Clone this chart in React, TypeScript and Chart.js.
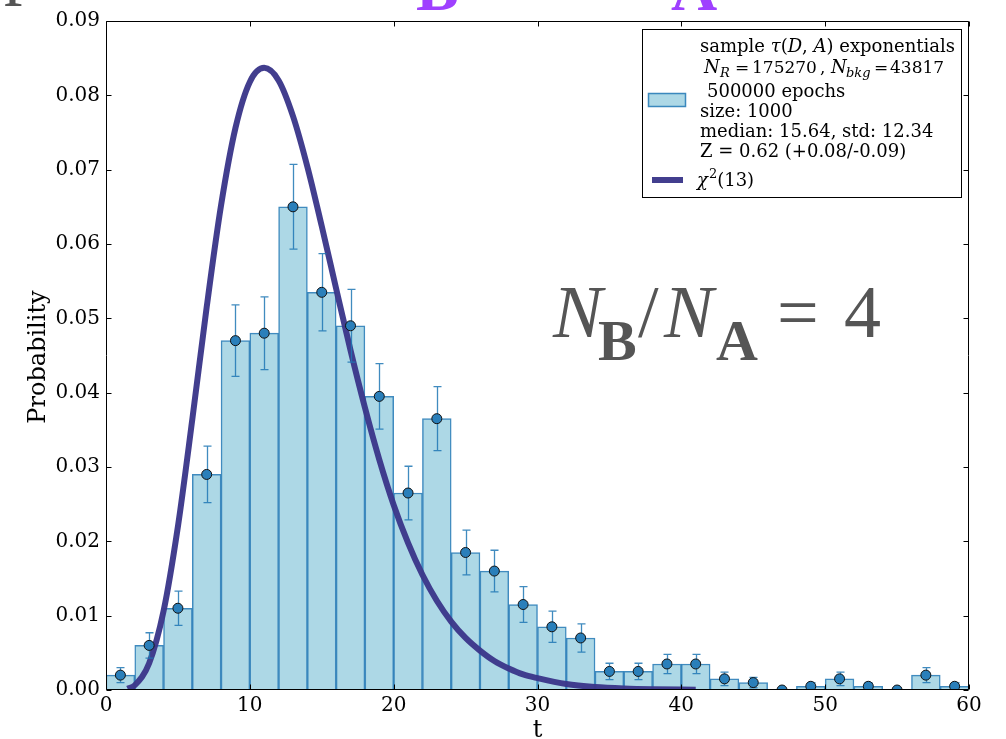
import React, { useEffect, useRef } from "react";
import { Chart, registerables } from "chart.js";
Chart.register(...registerables);

// ---- data ----
const binCenters = [1, 3, 5, 7, 9, 11, 13, 15, 17, 19, 21, 23, 25, 27, 29, 31, 33, 35, 37, 39, 41, 43, 45, 47, 49, 51, 53, 55, 57, 59];
const probabilities = [0.002, 0.006, 0.011, 0.029, 0.047, 0.048, 0.065, 0.0535, 0.049, 0.0395, 0.0265, 0.0365, 0.0185, 0.016, 0.0115, 0.0085, 0.007, 0.0025, 0.0025, 0.0035, 0.0035, 0.0015, 0.001, 0, 0.0005, 0.0015, 0.0005, 0, 0.002, 0.0005];
const errors = [0.001, 0.0017, 0.0023, 0.0038, 0.0048, 0.0049, 0.0057, 0.0052, 0.0049, 0.0044, 0.0036, 0.0043, 0.003, 0.0028, 0.0024, 0.0021, 0.0019, 0.0011, 0.0011, 0.0013, 0.0013, 0.0009, 0.0007, 0, 0.0005, 0.0009, 0.0005, 0, 0.001, 0.0005];
const curveT = [1.5, 2, 3, 4, 5, 6, 7, 8, 9, 10, 11, 12, 13, 14, 15, 16, 17, 18, 19, 20, 21, 22, 23, 24, 25, 26, 27, 28, 29, 30, 32, 34, 36, 38, 41];
const curveP = [0.00017, 0.00064, 0.0036, 0.0106, 0.022, 0.0364, 0.0515, 0.0652, 0.0756, 0.0818, 0.0837, 0.082, 0.0772, 0.0704, 0.0624, 0.054, 0.0457, 0.038, 0.031, 0.0249, 0.0198, 0.0155, 0.012, 0.0092, 0.007, 0.0053, 0.0039, 0.0029, 0.0021, 0.0016, 0.0008, 0.0004, 0.0002, 0.0001, 0.00004];
const xTicks = [0, 10, 20, 30, 40, 50, 60];
const yTicks = [0, 0.01, 0.02, 0.03, 0.04, 0.05, 0.06, 0.07, 0.08, 0.09];

const SERIF = "'DejaVu Serif'";
const TIMES = "'Liberation Serif'";
const BAR_FILL = "#add8e6";
const BAR_EDGE = "rgba(31,119,180,0.85)";
const CURVE = "rgba(60,56,138,0.97)";
const DOT = "#2a7fba";
const ERR = "rgba(31,119,180,0.85)";

type Part = { t: string; f: string; dy?: number; dx?: number };
function drawRuns(ctx: CanvasRenderingContext2D, x: number, y: number, parts: Part[]) {
  for (const p of parts) {
    ctx.font = p.f;
    ctx.fillText(p.t, x, y + (p.dy || 0));
    x += ctx.measureText(p.t).width + (p.dx || 0);
  }
  return x;
}

const overlay = {
  id: "overlay",
  beforeDatasetDraw(chart: any, args: any) {
    if (args.index !== 2) return;
    const { ctx, chartArea: a, scales } = chart;
    const x = scales.x, y = scales.y;
    ctx.save();
    ctx.beginPath();
    ctx.rect(a.left, a.top, a.right - a.left, a.bottom - a.top);
    ctx.clip();
    ctx.strokeStyle = ERR;
    ctx.lineWidth = 1.3;
    binCenters.forEach((c, i) => {
      const e = errors[i];
      if (!e) return;
      const px = Math.round(x.getPixelForValue(c)) + 0.5;
      const y1 = y.getPixelForValue(probabilities[i] - e);
      const y2 = y.getPixelForValue(probabilities[i] + e);
      ctx.beginPath();
      ctx.moveTo(px, y1); ctx.lineTo(px, y2);
      ctx.moveTo(px - 4, y1); ctx.lineTo(px + 4, y1);
      ctx.moveTo(px - 4, y2); ctx.lineTo(px + 4, y2);
      ctx.stroke();
    });
    ctx.restore();
  },
  afterDatasetsDraw(chart: any) {
    const { ctx, chartArea: a, scales } = chart;
    const x = scales.x, y = scales.y;
    ctx.save();
    ctx.strokeStyle = "#000";
    ctx.lineWidth = 1;
    const L = Math.round(a.left) + 0.5, R = Math.round(a.right) - 0.5;
    const T = Math.round(a.top) + 0.5, B = Math.round(a.bottom) - 0.5;
    ctx.beginPath();
    ctx.rect(L, T, R - L, B - T);
    ctx.stroke();
    const tl = 5;
    ctx.beginPath();
    yTicks.forEach((v) => {
      const py = Math.round(y.getPixelForValue(v)) + 0.5;
      ctx.moveTo(L, py); ctx.lineTo(L + tl, py);
      ctx.moveTo(R, py); ctx.lineTo(R - tl, py);
    });
    xTicks.forEach((v) => {
      const px = Math.round(x.getPixelForValue(v)) + 0.5;
      ctx.moveTo(px, B); ctx.lineTo(px, B - tl);
      ctx.moveTo(px, T); ctx.lineTo(px, T + tl);
    });
    ctx.stroke();
    ctx.restore();
  },
  afterDraw(chart: any) {
    const { ctx, chartArea: a } = chart;
    ctx.save();
    ctx.textBaseline = "alphabetic";
    // axis titles
    ctx.fillStyle = "#000";
    ctx.font = `24px ${SERIF}`;
    ctx.textAlign = "center";
    ctx.fillText("t", (a.left + a.right) / 2, 737);
    ctx.save();
    ctx.translate(45, 357);
    ctx.rotate(-Math.PI / 2);
    ctx.fillText("Probability", 0, 0);
    ctx.restore();
    ctx.textAlign = "left";

    // cut-off title fragments at the top
    ctx.fillStyle = "#555555";
    ctx.font = `74px ${TIMES}`;
    ctx.fillText("p", 4, -10);
    ctx.fillStyle = "#9f40ff";
    ctx.font = `bold 64px ${TIMES}`;
    ctx.fillText("B", 416, 10);
    ctx.fillText("A", 671, 10);

    // big annotation
    ctx.fillStyle = "#555555";
    const big = `74px ${TIMES}`;
    const bigI = `italic 74px ${TIMES}`;
    const sub = `bold 58px ${TIMES}`;
    ctx.font = bigI; ctx.fillText("N", 553, 337);
    ctx.font = sub; ctx.fillText("B", 598, 360);
    ctx.font = big; ctx.fillText("/", 638, 337);
    ctx.font = bigI; ctx.fillText("N", 664, 337);
    ctx.font = sub; ctx.fillText("A", 716, 360);
    ctx.font = big; ctx.fillText("=", 777, 337);
    ctx.fillText("4", 844, 337);

    // legend
    const lx = 642.5, ly = 29.5, lw = 319, lh = 168;
    ctx.fillStyle = "#fff";
    ctx.fillRect(lx, ly, lw, lh);
    ctx.strokeStyle = "#000";
    ctx.lineWidth = 1;
    ctx.strokeRect(lx, ly, lw, lh);
    ctx.fillStyle = BAR_FILL;
    ctx.fillRect(648.5, 93.5, 37, 13);
    ctx.strokeStyle = "rgba(31,119,180,0.85)";
    ctx.lineWidth = 1.5;
    ctx.strokeRect(648.5, 93.5, 37, 13);
    ctx.strokeStyle = CURVE;
    ctx.lineWidth = 6;
    ctx.beginPath();
    ctx.moveTo(652, 180); ctx.lineTo(683, 180);
    ctx.stroke();

    const F = `18px ${SERIF}`;
    const F17 = `17px ${SERIF}`;
    const FI = `italic 18px ${SERIF}`;
    const FS = `italic 13px ${SERIF}`;
    const FSu = `13px ${SERIF}`;
    ctx.fillStyle = "#000";
    const tx = 700;
    drawRuns(ctx, tx, 52, [
      { t: "sample ", f: F }, { t: "τ", f: FI }, { t: "(", f: F }, { t: "D", f: FI },
      { t: ", ", f: F }, { t: "A", f: FI }, { t: ")", f: F }, { t: " exponentials", f: F },
    ]);
    // second legend line, math-style compact spacing
    const y2 = 73;
    ctx.font = FI; ctx.fillText("N", 704, y2);
    ctx.font = FS; ctx.fillText("R", 720, y2 + 4);
    ctx.font = F17; ctx.fillText("=", 735, y2);
    ctx.fillText("175270", 752, y2);
    ctx.fillText(",", 820, y2);
    ctx.font = FI; ctx.fillText("N", 831, y2);
    ctx.font = FS; ctx.fillText("bkg", 846, y2 + 4);
    ctx.font = F17; ctx.fillText("=", 874, y2);
    ctx.fillText("43817", 890, y2);

    ctx.font = F;
    ctx.fillText("500000 epochs", 707, 97);
    ctx.fillText("size: 1000", tx, 117);
    ctx.fillText("median: 15.64, std: 12.34", tx, 137);
    ctx.fillText("Z = 0.62 (+0.08/-0.09)", tx, 157);
    drawRuns(ctx, 697, 186, [
      { t: "χ", f: FI, dx: 1 }, { t: "2", f: FSu, dy: -8 }, { t: "(13)", f: F },
    ]);
    ctx.restore();
  },
};

export default function App() {
  const ref = useRef<HTMLCanvasElement | null>(null);
  useEffect(() => {
    if (!ref.current) return;
    const chart = new Chart(ref.current, {
      type: "bar",
      data: {
        datasets: [
          {
            type: "bar",
            data: binCenters.map((c, i) => ({ x: c, y: probabilities[i] })),
            backgroundColor: BAR_FILL,
            borderColor: BAR_EDGE,
            borderWidth: 1.5,
            barPercentage: 1,
            categoryPercentage: 1,
            grouped: false,
            order: 3,
          } as any,
          {
            type: "line",
            data: curveT.map((t, i) => ({ x: t, y: curveP[i] })),
            borderColor: CURVE,
            borderWidth: 6,
            pointRadius: 0,
            cubicInterpolationMode: "monotone",
            fill: false,
            order: 2,
          } as any,
          {
            type: "scatter",
            data: binCenters.map((c, i) => ({ x: c, y: probabilities[i] })),
            backgroundColor: DOT,
            borderColor: "#111",
            borderWidth: 1,
            pointRadius: 5,
            order: 1,
          } as any,
        ],
      },
      options: {
        animation: false,
        responsive: true,
        maintainAspectRatio: false,
        layout: { padding: { left: 0, top: 21, right: 37, bottom: 0 } },
        plugins: { legend: { display: false }, tooltip: { enabled: false } },
        scales: {
          x: {
            type: "linear",
            min: 0,
            max: 60,
            offset: false,
            grid: { display: false, drawTicks: false },
            border: { display: false },
            ticks: {
              stepSize: 10,
              padding: 4,
              color: "#000",
              font: { family: "DejaVu Serif", size: 20 },
              callback: (v: any) => String(v),
            },
            afterFit: (s: any) => { s.height = 49; },
          },
          y: {
            type: "linear",
            min: 0,
            max: 0.09,
            grid: { display: false, drawTicks: false },
            border: { display: false },
            ticks: {
              stepSize: 0.01,
              padding: 6,
              color: "#000",
              font: { family: "DejaVu Serif", size: 20 },
              callback: (v: any) => Number(v).toFixed(2),
            },
            afterFit: (s: any) => { s.width = 106; },
          },
        },
      },
      plugins: [overlay],
    } as any);
    return () => chart.destroy();
  }, []);
  return (
    <div style={{ position: "absolute", left: 0, top: 0, width: 1006, height: 739 }}>
      <canvas ref={ref} />
    </div>
  );
}
